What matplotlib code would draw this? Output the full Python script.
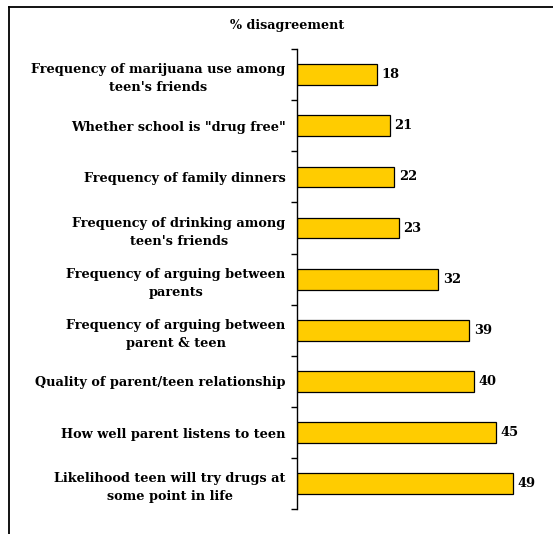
import matplotlib.pyplot as plt
import numpy as np
from matplotlib.lines import Line2D

categories = [
    "Frequency of marijuana use among\nteen's friends",
    'Whether school is "drug free"',
    "Frequency of family dinners",
    "Frequency of drinking among\nteen's friends",
    "Frequency of arguing between\nparents",
    "Frequency of arguing between\nparent & teen",
    "Quality of parent/teen relationship",
    "How well parent listens to teen",
    "Likelihood teen will try drugs at\nsome point in life",
]
values = [18, 21, 22, 23, 32, 39, 40, 45, 49]
title = "% disagreement"

W, H = 553, 534
fig = plt.figure(figsize=(W / 100, H / 100), dpi=100)

x0, xmax = 297.3, 55
px_per_unit = 4.41
ax = fig.add_axes([x0 / W, 1 - 509.3 / H, xmax * px_per_unit / W, (509.3 - 49) / H])

font = dict(family="DejaVu Serif", weight="bold")

y = np.arange(len(categories))
ax.barh(y, values, height=0.405, color="#FFCC00", edgecolor="black", linewidth=0.9)
ax.set_xlim(0, xmax)
ax.set_ylim(len(categories) - 0.5, -0.5)

for yi, v in zip(y, values):
    ax.text(v + 1.0, yi, str(v), va="center", ha="left", fontsize=9.4, **font)

# category labels
ax.set_yticks(y)
ax.set_yticklabels(categories, fontsize=9.3, multialignment="center",
                   linespacing=1.5, **font)
ax.tick_params(axis="y", which="major", length=0, pad=8.5)
ax.set_yticks(np.arange(len(categories) + 1) - 0.5, minor=True)
ax.tick_params(axis="y", which="minor", length=4.5, width=1, direction="out")

ax.set_xticks([])
for s in ["top", "right", "bottom"]:
    ax.spines[s].set_visible(False)
ax.spines["left"].set_linewidth(1)

fig.text(287 / W, 1 - 26 / H, title, ha="center", va="center", fontsize=9.2, **font)

# chart frame (cropped at right and bottom)
fig.add_artist(Line2D([9 / W, 9 / W], [0, 1 - 7 / H], color="black", linewidth=1.3))
fig.add_artist(Line2D([9 / W, 1], [1 - 7 / H, 1 - 7 / H], color="black", linewidth=1.3))

fig.savefig("out.png", dpi=100)
